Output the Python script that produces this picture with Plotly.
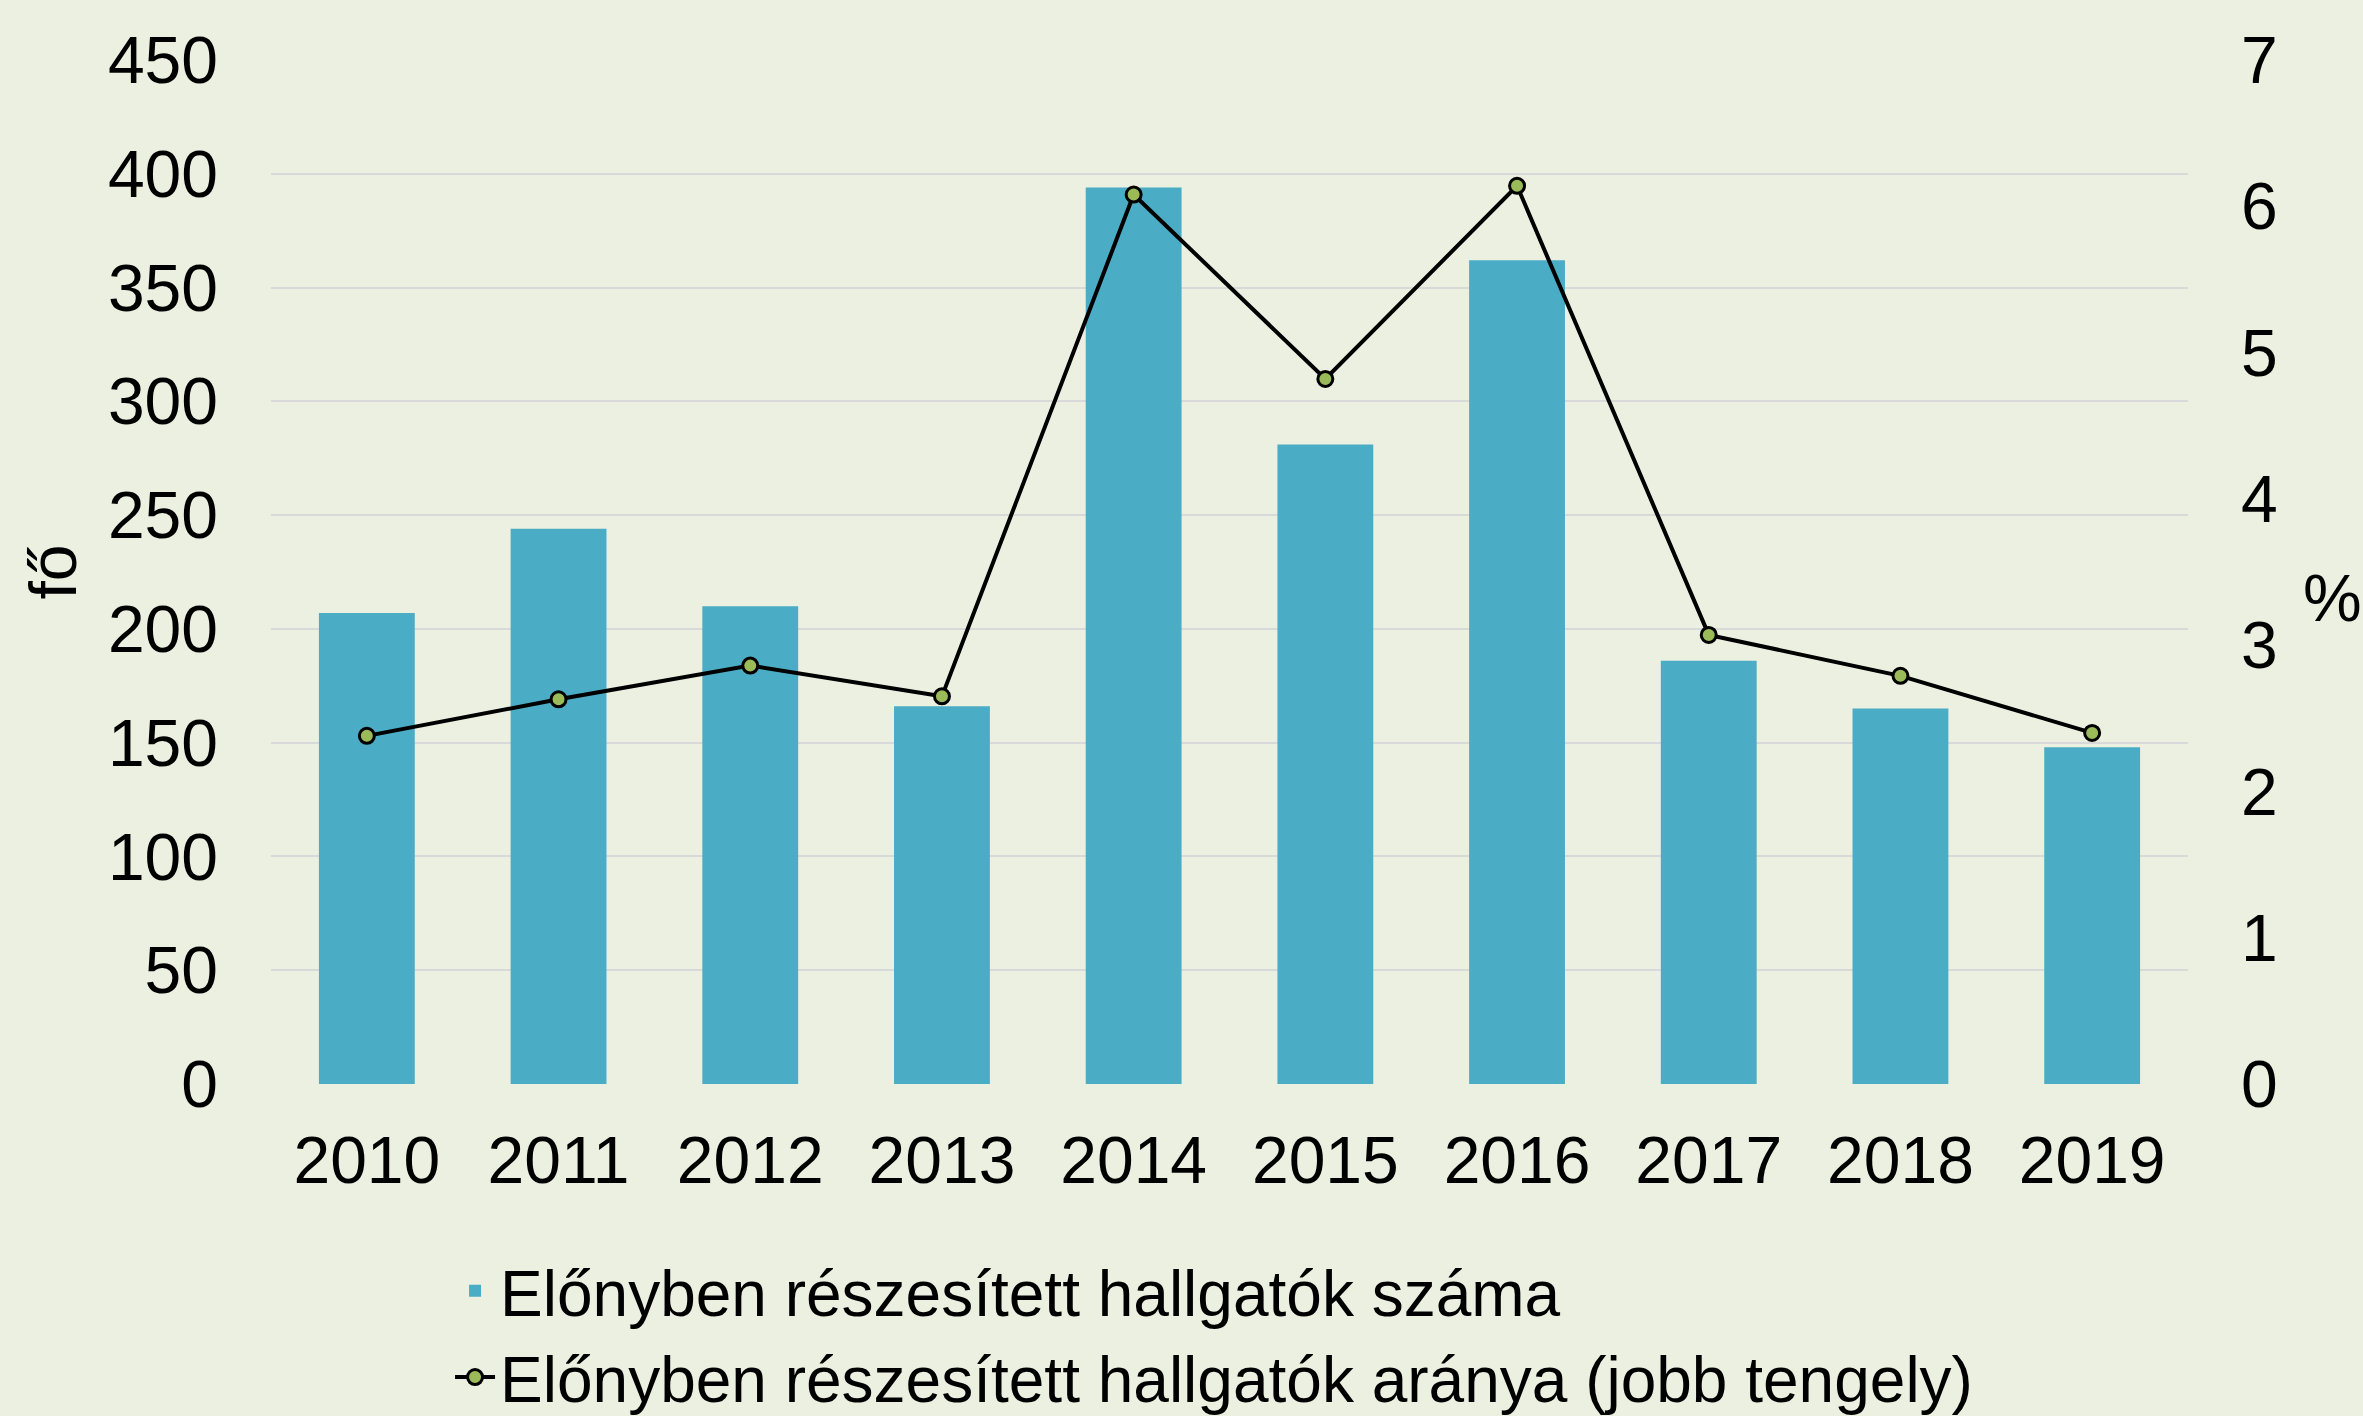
import plotly.graph_objects as go

years = ["2010", "2011", "2012", "2013", "2014", "2015", "2016", "2017", "2018", "2019"]
count_students = [207, 244, 210, 166, 394, 281, 362, 186, 165, 148]
share_pct = [2.38, 2.63, 2.86, 2.65, 6.08, 4.82, 6.14, 3.07, 2.79, 2.40]

bar_name = "Előnyben részesített hallgatók száma"
line_name = "Előnyben részesített hallgatók aránya (jobb tengely)"

BG = "#ECF0E1"
FONT = "Liberation Sans, Arial, sans-serif"
FS = 66
LFS = 64

fig = go.Figure()
fig.add_trace(go.Bar(
    x=years, y=count_students, name=bar_name,
    marker=dict(color="#4BACC6", line=dict(width=0)),
    width=0.5,
))
fig.add_trace(go.Scatter(
    x=years, y=share_pct, name=line_name, yaxis="y2",
    mode="lines+markers",
    line=dict(color="#000000", width=4),
    marker=dict(size=15, color="#9BBB59", line=dict(color="#000000", width=3)),
))

fig.update_layout(
    width=2363, height=1416,
    margin=dict(l=271, r=175, t=60, b=332, autoexpand=False),
    paper_bgcolor=BG, plot_bgcolor=BG,
    font=dict(family=FONT, size=FS, color="#000000"),
    showlegend=True,
    legend=dict(
        orientation="v", x=0.0934, xanchor="left", y=-0.155, yanchor="top",
        bgcolor="rgba(0,0,0,0)", font=dict(size=LFS), traceorder="normal",
        itemwidth=40, tracegroupgap=0,
    ),
    bargap=0.5,
    xaxis=dict(
        type="category", range=[-0.5, 9.5], showgrid=False, showline=False,
        zeroline=False, ticks="", ticklabelstandoff=32, tickfont=dict(size=FS),
    ),
    yaxis=dict(
        range=[0, 450], dtick=50, tick0=0,
        showgrid=True, gridcolor="#D9D9D9", gridwidth=2,
        zeroline=False, showline=False, ticks="",
        ticklabelstandoff=52, tickfont=dict(size=FS),
        title=dict(text="fő", font=dict(size=FS), standoff=9),
    ),
    yaxis2=dict(
        range=[0, 7], dtick=1, tick0=0, overlaying="y", side="right",
        showgrid=False, zeroline=False, showline=False, ticks="",
        ticklabelstandoff=52, tickfont=dict(size=FS),
    ),
    annotations=[dict(
        text="%", xref="paper", yref="paper", x=1.0756, y=0.4747,
        xanchor="center", yanchor="middle", showarrow=False,
        font=dict(size=FS, family=FONT, color="#000000"),
    )],
)

fig.write_html("out.html")
